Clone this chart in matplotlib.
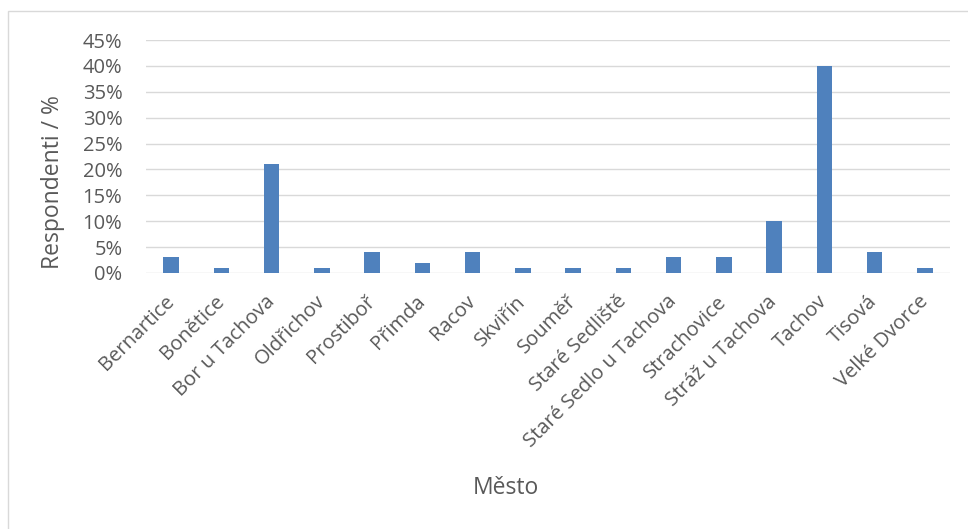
import numpy as np
import matplotlib.pyplot as plt
from matplotlib.patches import Rectangle
from matplotlib.ticker import FuncFormatter

# podíl respondentů podle města
mesta = ['Bernartice', 'Bonětice', 'Bor u Tachova', 'Oldřichov', 'Prostiboř',
         'Přimda', 'Racov', 'Skviřín', 'Souměř', 'Staré Sedliště',
         'Staré Sedlo u Tachova', 'Strachovice', 'Stráž u Tachova', 'Tachov',
         'Tisová', 'Velké Dvorce']
podil = [3, 1, 21, 1, 4, 2, 4, 1, 1, 1, 3, 3, 10, 40, 4, 1]
y_ticks = [0, 5, 10, 15, 20, 25, 30, 35, 40, 45]

seda = '#595959'
plt.rcParams['font.family'] = ['Open Sans', 'DejaVu Sans']

fig = plt.figure(figsize=(9.68, 5.29), dpi=100)
W, H = 968, 529
ax = fig.add_axes([146 / W, 1 - 273 / H, (950 - 146) / W, (273 - 40) / H])

x_pos = np.arange(len(mesta))
ax.bar(x_pos, podil, width=0.31, color='#4f81bd', zorder=3)

ax.set_xlim(-0.5, len(mesta) - 0.5)
ax.set_ylim(0, 45)
ax.set_yticks(y_ticks)
ax.yaxis.set_major_formatter(FuncFormatter(lambda v, p: f'{v:.0f}%'))
ax.grid(axis='y', color='#d9d9d9', linewidth=1.0, zorder=0)
for s in ax.spines.values():
    s.set_visible(False)
ax.tick_params(axis='both', length=0, colors=seda, labelsize=14.5)
ax.tick_params(axis='y', pad=17)

ax.set_xticks(x_pos)
ax.set_xticklabels(mesta, rotation=45, ha='right', va='center',
                   rotation_mode='anchor')
ax.tick_params(axis='x', pad=18.5)

# popisky os
fig.text(53 / W, 1 - 182 / H, 'Respondenti / %', fontsize=16.5, color=seda,
         rotation=90, ha='center', va='center')
fig.text(506 / W, 1 - 488 / H, 'Město', fontsize=16.5, color=seda,
         ha='center', va='center')

# rámeček grafu
fig.patches.append(Rectangle((8 / W, -0.01), 1.0, 1 - 11 / H + 0.01,
                             transform=fig.transFigure, fill=False,
                             edgecolor='#d9d9d9', linewidth=1.0))

fig.savefig('out.png', dpi=100)
